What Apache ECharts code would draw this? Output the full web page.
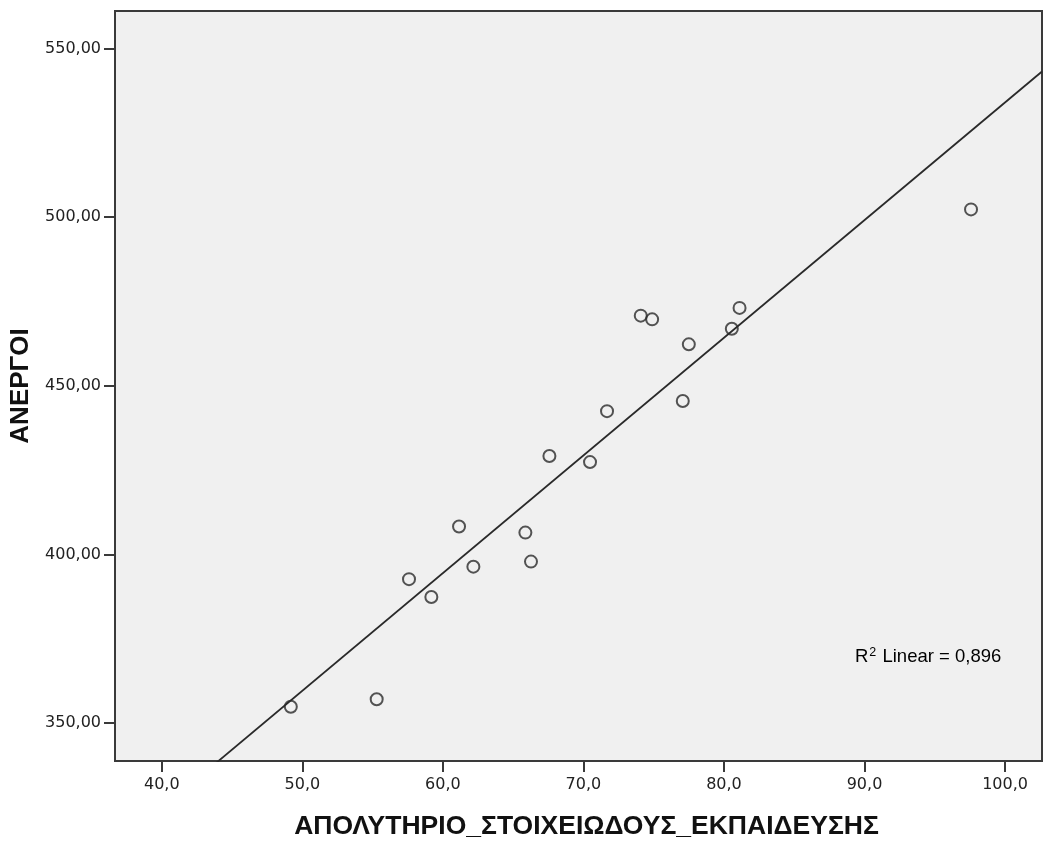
<!DOCTYPE html>
<html>
<head>
<meta charset="utf-8">
<script src="https://cdn.jsdelivr.net/npm/echarts@6/dist/echarts.min.js"></script>
<style>
  html, body { margin: 0; padding: 0; background: #ffffff; }
  #chart { width: 1043px; height: 841px; }
</style>
</head>
<body>
<div id="chart"></div>
<script>
// Primary-school certificate holders (x) vs. unemployed (y)
const eduValues = [49.18, 55.29, 57.59, 59.18, 61.15, 62.17, 65.87, 66.27, 67.58,
                   70.47, 71.68, 74.08, 74.89, 77.07, 77.50, 80.56, 81.11, 97.58];
const unemployedValues = [354.9, 357.1, 392.7, 387.4, 408.3, 396.4, 406.5, 397.9, 429.2,
                          427.4, 442.5, 470.8, 469.7, 445.5, 462.3, 466.9, 473.1, 502.3];

const xTicks = [40, 50, 60, 70, 80, 90, 100];
const yTicks = [350, 400, 450, 500, 550];
const xRange = [36.67, 102.63];
const yRange = [338.8, 561.1];

const xTitle = 'ΑΠΟΛΥΤΗΡΙΟ_ΣΤΟΙΧΕΙΩΔΟΥΣ_ΕΚΠΑΙΔΕΥΣΗΣ';
const yTitle = 'ΑΝΕΡΓΟΙ';
const r2Text = '0,896';

// Least-squares fit line through the points
function linearFit(xs, ys) {
  const n = xs.length;
  const mx = xs.reduce((a, b) => a + b, 0) / n;
  const my = ys.reduce((a, b) => a + b, 0) / n;
  let sxy = 0, sxx = 0;
  for (let i = 0; i < n; i++) {
    sxy += (xs[i] - mx) * (ys[i] - my);
    sxx += (xs[i] - mx) * (xs[i] - mx);
  }
  const slope = sxy / sxx;
  return { slope, intercept: my - slope * mx };
}
const fit = linearFit(eduValues, unemployedValues);
const fitLine = xRange.map(x => [x, fit.intercept + fit.slope * x]);

const points = eduValues.map((x, i) => [x, unemployedValues[i]]);

const axisColor = '#3a3a3a';
const tickFont = { fontFamily: 'DejaVu Sans', fontSize: 16, color: '#222' };

const chart = echarts.init(document.getElementById('chart'), null, { renderer: 'canvas' });
chart.setOption({
  animation: false,
  backgroundColor: '#ffffff',
  grid: {
    left: 115, right: 1, top: 11, bottom: 80,
    outerBoundsMode: 'none',
    containLabel: false,
    show: true,
    backgroundColor: '#f0f0f0',
    borderColor: axisColor,
    borderWidth: 2
  },
  xAxis: {
    type: 'value',
    min: xRange[0], max: xRange[1],
    name: xTitle,
    nameLocation: 'middle',
    nameGap: 52,
    nameTextStyle: {
      fontFamily: 'Liberation Sans', fontWeight: 'bold', fontSize: 26.5, color: '#111',
      padding: [0, 0, 0, 16]
    },
    axisLine: { show: true, lineStyle: { color: axisColor, width: 2 } },
    axisTick: { show: true, length: 11, customValues: xTicks, lineStyle: { color: axisColor, width: 2 } },
    axisLabel: Object.assign({
      margin: 16,
      customValues: xTicks,
      formatter: v => v.toFixed(1).replace('.', ',')
    }, tickFont),
    splitLine: { show: false }
  },
  yAxis: {
    type: 'value',
    min: yRange[0], max: yRange[1],
    name: yTitle,
    nameLocation: 'middle',
    nameGap: 80,
    nameRotate: 90,
    nameTextStyle: { fontFamily: 'Liberation Sans', fontWeight: 'bold', fontSize: 26, color: '#111' },
    axisLine: { show: true, lineStyle: { color: axisColor, width: 2 } },
    axisTick: { show: true, length: 11, customValues: yTicks, lineStyle: { color: axisColor, width: 2 } },
    axisLabel: Object.assign({
      margin: 14,
      customValues: yTicks,
      formatter: v => v.toFixed(2).replace('.', ',')
    }, tickFont),
    splitLine: { show: false }
  },
  series: [
    {
      type: 'line',
      data: fitLine,
      showSymbol: false,
      clip: true,
      silent: true,
      lineStyle: { color: '#2a2a2a', width: 1.8 },
      z: 2
    },
    {
      type: 'scatter',
      data: points,
      symbol: 'circle',
      symbolSize: 12,
      silent: true,
      itemStyle: { color: 'rgba(0,0,0,0)', borderColor: '#2a2a2a', borderWidth: 2 },
      z: 3
    }
  ],
  graphic: [
    {
      type: 'text',
      left: 855,
      top: 646,
      silent: true,
      style: {
        text: '{r|R}{s|2}{r| Linear = ' + r2Text + '}',
        rich: {
          r: { fontFamily: 'Liberation Sans', fontSize: 18.5, color: '#222', lineHeight: 22 },
          s: { fontFamily: 'Liberation Sans', fontSize: 12.5, color: '#222', verticalAlign: 'top', lineHeight: 22, padding: [0, 1, 8, 1] }
        }
      }
    }
  ]
});
</script>
</body>
</html>
